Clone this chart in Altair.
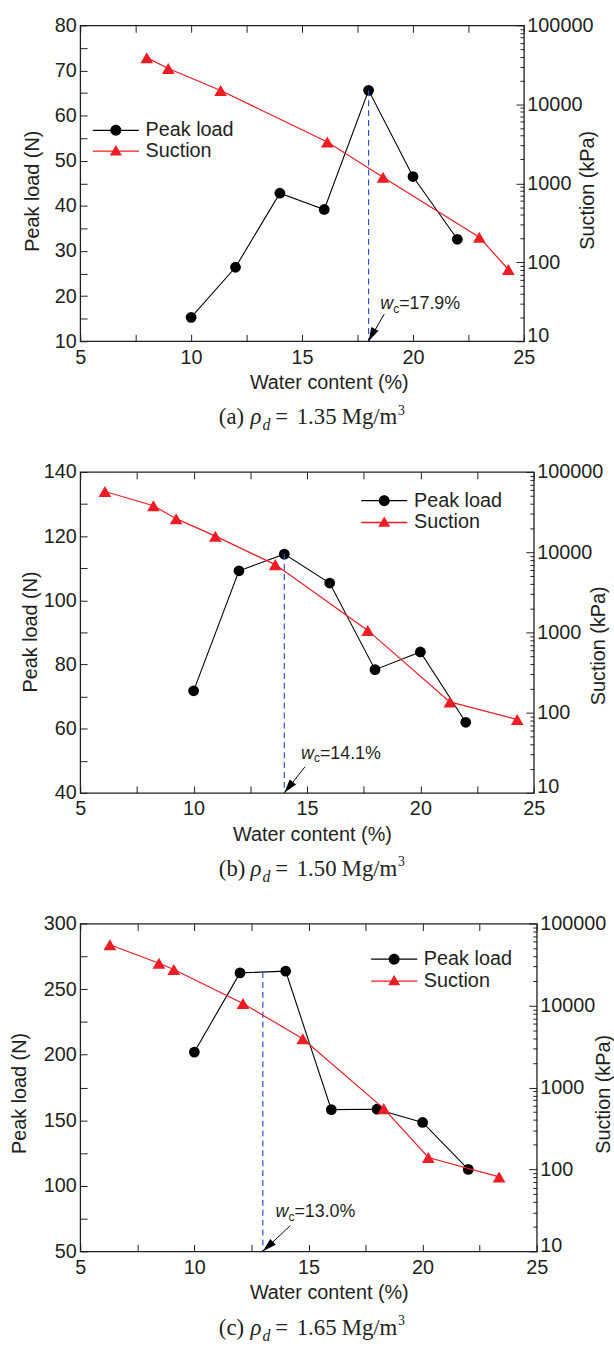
import altair as alt
import pandas as pd

# ---------------- data ----------------
series_names = ["Peak load", "Suction"]

# (a) rho_d = 1.35
a_load_w = [10, 12, 14, 16, 18, 20, 22]
a_load_n = [15.3, 26.4, 42.8, 39.2, 65.6, 46.5, 32.6]
a_suc_w = [8.0, 8.97, 11.33, 16.14, 18.65, 22.99, 24.3]
a_suc_kpa = [39000, 28400, 15000, 3330, 1190, 207, 81]
a_wc = [18.0, 65.6, "17.9"]          # x, top of dashed line, label value

# (b) rho_d = 1.50
b_load_w = [10, 12, 14, 16, 18, 20, 22]
b_load_n = [71.8, 109.2, 114.4, 105.4, 78.4, 83.9, 62.0]
b_suc_w = [6.09, 8.23, 9.23, 10.96, 13.6, 17.68, 21.3, 24.27]
b_suc_kpa = [57100, 37900, 26200, 15850, 7000, 1060, 136, 82]
b_wc = [14.0, 114.4, "14.1"]

# (c) rho_d = 1.65
c_load_w = [10, 12, 14, 16, 18, 20, 22]
c_load_n = [202.0, 262.4, 263.7, 158.1, 158.4, 148.3, 112.5]
c_suc_w = [6.3, 8.45, 9.1, 12.13, 14.75, 18.3, 20.25, 23.35]
c_suc_kpa = [55200, 32800, 27500, 10600, 3920, 552, 140, 81]
c_wc = [13.0, 263.0, "13.0"]

x_ticks = [5, 7.5, 10, 12.5, 15, 17.5, 20, 22.5, 25]
suc_major = [10, 100, 1000, 10000, 100000]
suc_minor = [m * d for d in [10, 100, 1000, 10000] for m in range(2, 10)]

# ---------------- styles ----------------
FONT = "Liberation Sans"
SERIF = "Liberation Serif"
INK = "#231f20"
RED = "#ee1c24"
BLUE = "#2f52c8"
T = 7

LEG_CIRCLE = "M-4,-0.11H4V0.11H-4Z M-0.95,0A0.95,0.95 0 1,1 0.95,0A0.95,0.95 0 1,1 -0.95,0Z"
LEG_TRI = "M-4,-0.11H4V0.11H-4Z M0,-1.05L1.05,0.75L-1.05,0.75Z"
ARROW = "M0,0L0.35,1.2L-0.35,1.2Z"

AX = dict(domain=False, grid=False, tickColor=INK, tickWidth=1, labelColor=INK,
          titleColor=INK, labelFont=FONT, titleFont=FONT, labelFontSize=20,
          titleFontSize=20, titleFontWeight="normal", labelFlush=False,
          labelOverlap=False, labelBound=False)


def make_panel(tag, rho, load_w, load_n, suc_w, suc_kpa, wc, ydom, ystep, ylabstep,
               W, H, st):
    load_df = pd.DataFrame({"w": load_w, "v": load_n})
    suc_df = pd.DataFrame({"w": suc_w, "s": suc_kpa})
    xs = alt.Scale(domain=[5, 25], nice=False, zero=False)
    ys = alt.Scale(domain=ydom, nice=False, zero=False)
    ss = alt.Scale(type="log", domain=[10, 100000], nice=False)
    y_vals = list(range(ydom[0], ydom[1] + 1, ystep))

    x_bottom = alt.Axis(orient="bottom", values=x_ticks,
                        labelExpr="datum.value % 5 == 0 ? datum.label : ''",
                        tickSize=T, offset=-T, labelPadding=6,
                        title="Water content (%)", titleX=st["xt_x"],
                        titleY=48 + T, titleBaseline="alphabetic", titleAlign="center",
                        **AX)
    x_top = alt.Axis(orient="top", values=x_ticks, tickSize=T, offset=-T,
                     labels=False, title=None, **AX)
    y_left = alt.Axis(orient="left", values=y_vals,
                      labelExpr=f"datum.value % {ylabstep} == 0 ? datum.label : ''",
                      tickSize=T, offset=-T, labelPadding=4, title="Peak load (N)",
                      titleX=st["lt_x"] - T, titleY=st["lt_y"], titleAngle=270,
                      titleBaseline="middle", titleAlign="center", **AX)
    y_right = alt.Axis(orient="right", values=suc_major, format="d", tickSize=8,
                       offset=-8, labelPadding=3, title="Suction (kPa)",
                       labelOffset={"condition": {"test": "datum.value == 10",
                                                  "value": -6}, "value": 0},
                       titleX=st["rt_x"] + 8, titleY=st["rt_y"], titleAngle=270,
                       titleBaseline="middle", titleAlign="center", **AX)
    y_right_minor = alt.Axis(orient="right", values=suc_minor, tickSize=4, offset=-4,
                             labels=False, title=None, **AX)

    load_line = alt.Chart(load_df).mark_line(color="black", strokeWidth=1.1).encode(
        x=alt.X("w:Q", scale=xs, axis=None), y=alt.Y("v:Q", scale=ys, axis=None))
    load_pts = alt.Chart(load_df).mark_point(
        filled=True, shape="circle", size=118, color="black", opacity=1).encode(
        x=alt.X("w:Q", scale=xs, axis=x_bottom), y=alt.Y("v:Q", scale=ys, axis=y_left))

    wc_df = pd.DataFrame({"w": [wc[0]], "top": [wc[1]], "bot": [ydom[0]]})
    wc_rule = alt.Chart(wc_df).mark_rule(color=BLUE, strokeDash=[6, 4],
                                         strokeWidth=1.2).encode(
        x=alt.X("w:Q", scale=xs, axis=None), y=alt.Y("top:Q", scale=ys, axis=None),
        y2="bot:Q")

    ann_df = pd.DataFrame({"w": [st["ann"][0]], "v": [st["ann"][1]],
                           "lab": ["=" + wc[2] + "%"]})
    enc_ann = dict(x=alt.X("w:Q", scale=xs, axis=None),
                   y=alt.Y("v:Q", scale=ys, axis=None))
    ann_w = alt.Chart(ann_df).mark_text(
        text="w", font=FONT, fontSize=18, fontStyle="italic", align="left",
        baseline="alphabetic", color=INK).encode(**enc_ann)
    ann_c = alt.Chart(ann_df).mark_text(
        text="c", font=FONT, fontSize=12, align="left", baseline="alphabetic",
        dx=13, dy=4, color=INK).encode(**enc_ann)
    ann_t = alt.Chart(ann_df).mark_text(
        font=FONT, fontSize=18, align="left", baseline="alphabetic", dx=19,
        color=INK).encode(text="lab:N", **enc_ann)

    arr_df = pd.DataFrame({"w0": [st["arr"][0]], "v0": [st["arr"][1]],
                           "w1": [wc[0]], "v1": [ydom[0]]})
    arr_line = alt.Chart(arr_df).mark_rule(color="black", strokeWidth=1).encode(
        x=alt.X("w0:Q", scale=xs, axis=None), y=alt.Y("v0:Q", scale=ys, axis=None),
        x2="w1:Q", y2="v1:Q")
    arr_head = alt.Chart(arr_df).mark_point(
        shape=ARROW, filled=True, size=547, angle=st["ang"], color="black",
        opacity=1).encode(x=alt.X("w1:Q", scale=xs, axis=None),
                          y=alt.Y("v1:Q", scale=ys, axis=None))

    leg = alt.Legend(orient="none", legendX=st["leg"][0], legendY=st["leg"][1],
                     title=None, direction="vertical", labelFont=FONT,
                     labelFontSize=20, labelColor=INK, labelOffset=20, symbolSize=135,
                     symbolStrokeWidth=0, rowPadding=st["rowpad"], padding=0,
                     labelLimit=300, symbolOpacity=1)
    leg_df = pd.DataFrame({"series": series_names, "w": [0, 0],
                           "v": [load_n[0], load_n[0]]})
    leg_layer = alt.Chart(leg_df).mark_point(filled=True, clip=True, size=135).encode(
        x=alt.X("w:Q", scale=xs, axis=None), y=alt.Y("v:Q", scale=ys, axis=None),
        shape=alt.Shape("series:N", scale=alt.Scale(domain=series_names,
                                                    range=[LEG_CIRCLE, LEG_TRI]),
                        legend=leg),
        color=alt.Color("series:N", scale=alt.Scale(domain=series_names,
                                                    range=["black", RED]),
                        legend=leg))

    # caption pieces (x positions relative to the plot's left edge)
    cap_df = pd.DataFrame({"k": [0]})
    cy = H + 84
    pieces = [("(" + tag + ")", 140, 23, "normal", 0),
              ("ρ", 172, 23, "italic", 0),
              ("d", 184, 16, "italic", 6),
              ("=", 197, 23, "normal", 0),
              (rho, 218.6, 23, "normal", 0),
              ("Mg/m", 264, 23, "normal", 0),
              ("3", 321, 14, "normal", -10)]
    caps = [alt.Chart(cap_df).mark_text(text=t, font=SERIF, fontSize=fs, fontStyle=sty,
                                        align="left", baseline="alphabetic",
                                        color=INK).encode(
        x=alt.value(px), y=alt.value(cy + dy)) for t, px, fs, sty, dy in pieces]

    peak_group = (alt.layer(load_line, load_pts, wc_rule, ann_w, ann_c, ann_t,
                            arr_line, arr_head, leg_layer, *caps)
                  .resolve_axis(x="independent", y="independent"))

    suc_line = alt.Chart(suc_df).mark_line(color=RED, strokeWidth=1.2).encode(
        x=alt.X("w:Q", scale=xs, axis=None), y=alt.Y("s:Q", scale=ss, axis=y_right))
    suc_pts = alt.Chart(suc_df).mark_point(
        filled=True, shape="triangle-up", size=165, color=RED, opacity=1).encode(
        x=alt.X("w:Q", scale=xs, axis=x_top), y=alt.Y("s:Q", scale=ss, axis=y_right_minor))
    suc_group = alt.layer(suc_line, suc_pts).resolve_axis(x="independent",
                                                          y="independent")

    return (alt.layer(peak_group, suc_group)
            .resolve_scale(y="independent")
            .resolve_axis(x="independent", y="independent")
            .properties(width=W, height=H))


pa = make_panel("a", "1.35", a_load_w, a_load_n, a_suc_w, a_suc_kpa, a_wc,
                [10, 80], 5, 10, 448, 319,
                dict(xt_x=251, lt_x=-48, lt_y=167, rt_x=64, rt_y=166, rowpad=1,
                     ann=(18.53, 17.1), arr=(18.7, 16.0), ang=207, leg=(26, 96)))
pb = make_panel("b", "1.50", b_load_w, b_load_n, b_suc_w, b_suc_kpa, b_wc,
                [40, 140], 10, 20, 458, 324,
                dict(xt_x=234, lt_x=-50, lt_y=161, rt_x=65, rt_y=175, rowpad=2,
                     ann=(14.74, 50.7), arr=(14.91, 48.1), ang=218, leg=(297, 19)))
pc = make_panel("c", "1.65", c_load_w, c_load_n, c_suc_w, c_suc_kpa, c_wc,
                [50, 300], 25, 50, 461, 331,
                dict(xt_x=251, lt_x=-61, lt_y=171, rt_x=67, rt_y=172, rowpad=2,
                     ann=(13.56, 76.4), arr=(14.2, 69.6), ang=227, leg=(307, 26)))

chart = (alt.vconcat(pa, pb, pc, spacing=132, bounds="flush")
         .resolve_scale(color="independent", shape="independent")
         .resolve_legend(color="independent", shape="independent")
         .properties(padding={"left": 9, "top": 8, "right": 0, "bottom": 0})
         .configure_view(stroke=INK, strokeWidth=1.3))

chart.save("out.html", embed_options={"renderer": "svg", "actions": False})
